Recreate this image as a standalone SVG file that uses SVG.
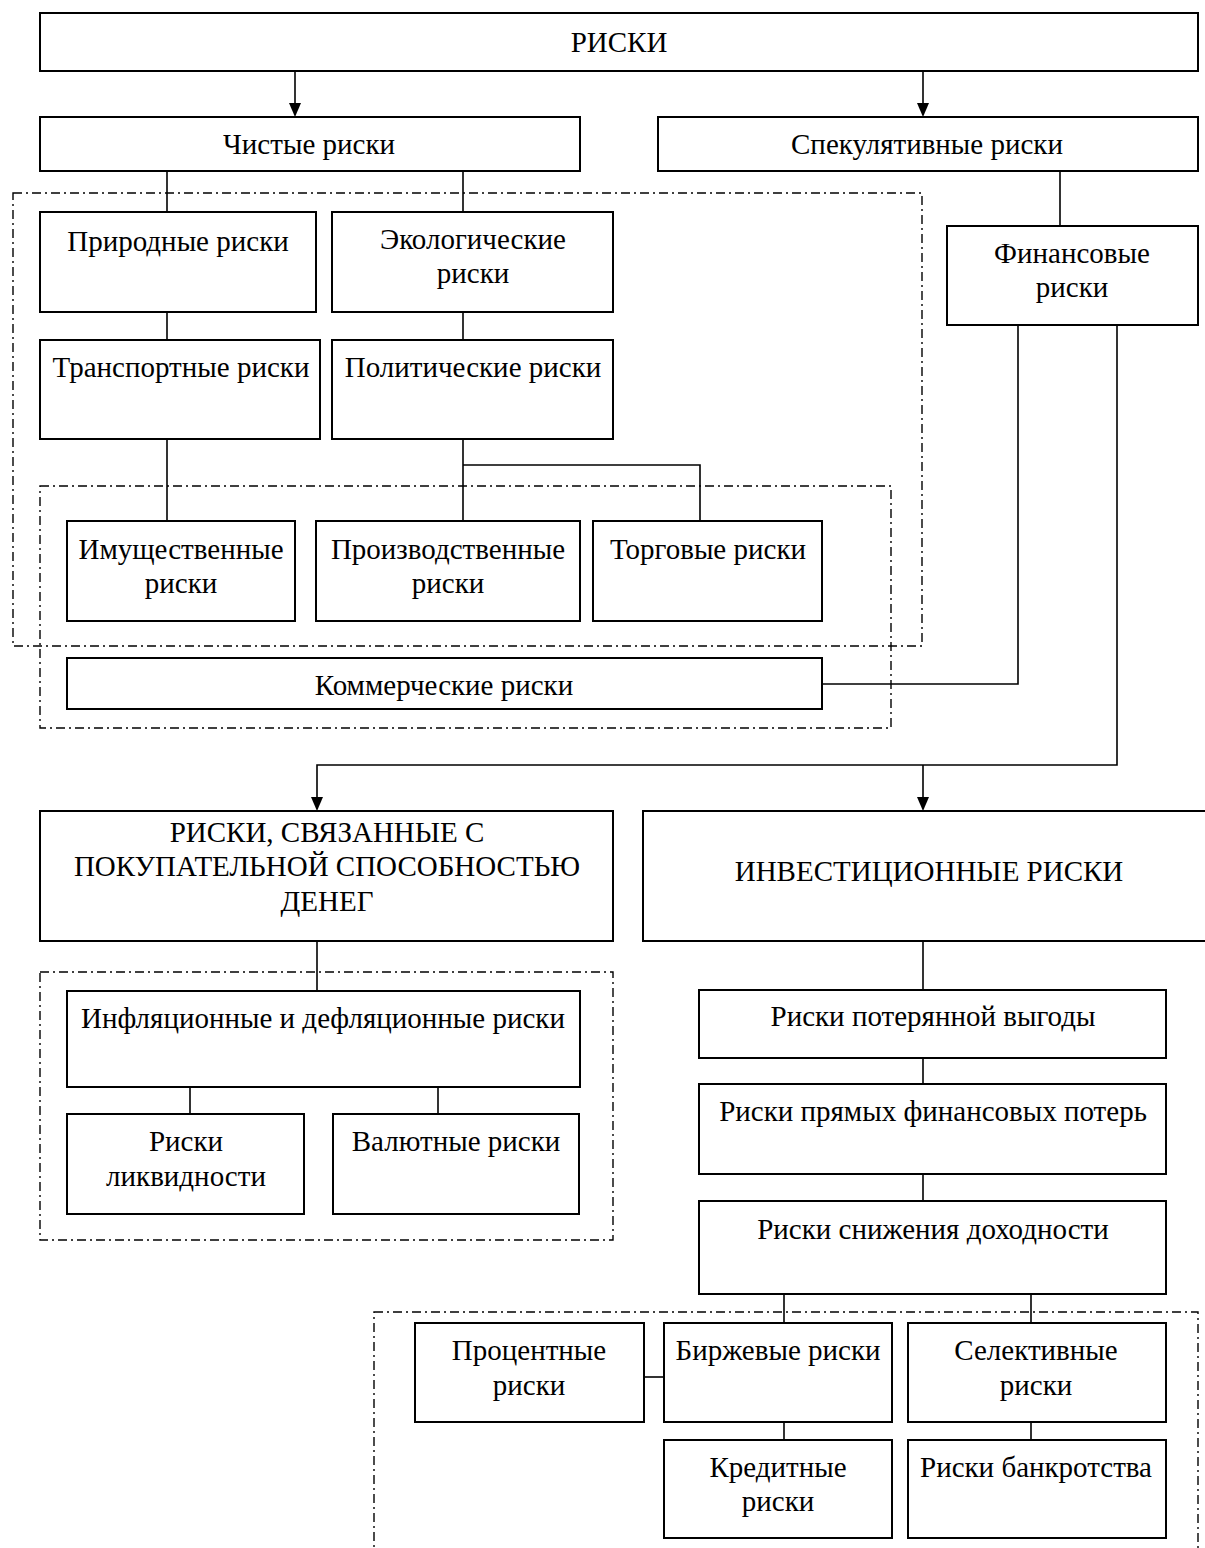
<svg xmlns="http://www.w3.org/2000/svg" width="1205" height="1548" viewBox="0 0 1205 1548">
<style>
.b{fill:#fff;stroke:#000;stroke-width:2}
.d{fill:none;stroke:#000;stroke-width:1.4;stroke-dasharray:9,4,2,4}
.c{fill:none;stroke:#000;stroke-width:1.6}
text{font-family:"Liberation Serif","Times New Roman",serif;font-size:29px;fill:#000;text-anchor:middle}
</style>
<rect width="1205" height="1548" fill="#fff"/>
<g id="groups">
<rect class="d" x="13" y="193" width="909" height="453"/>
<rect class="d" x="40" y="486" width="851" height="242"/>
<rect class="d" x="40" y="972" width="573" height="268"/>
<rect class="d" x="374" y="1312" width="824" height="250"/>
</g>
<g id="connectors">
<line class="c" x1="295" y1="71" x2="295" y2="103"/>
<path d="M289,103 L301,103 L295,117 Z"/>
<line class="c" x1="923" y1="71" x2="923" y2="103"/>
<path d="M917,103 L929,103 L923,117 Z"/>
<line class="c" x1="167" y1="171" x2="167" y2="212"/>
<line class="c" x1="463" y1="171" x2="463" y2="212"/>
<line class="c" x1="1060" y1="171" x2="1060" y2="226"/>
<line class="c" x1="167" y1="312" x2="167" y2="340"/>
<line class="c" x1="463" y1="312" x2="463" y2="340"/>
<line class="c" x1="167" y1="439" x2="167" y2="521"/>
<polyline class="c" points="463,439 463,521"/>
<polyline class="c" points="463,465 700,465 700,521"/>
<polyline class="c" points="1018,325 1018,684 822,684"/>
<polyline class="c" points="1117,325 1117,765 317,765 317,797"/>
<path d="M311,797 L323,797 L317,811 Z"/>
<line class="c" x1="923" y1="765" x2="923" y2="797"/>
<path d="M917,797 L929,797 L923,811 Z"/>
<line class="c" x1="317" y1="941" x2="317" y2="991"/>
<line class="c" x1="190" y1="1087" x2="190" y2="1114"/>
<line class="c" x1="438" y1="1087" x2="438" y2="1114"/>
<line class="c" x1="923" y1="941" x2="923" y2="990"/>
<line class="c" x1="923" y1="1058" x2="923" y2="1084"/>
<line class="c" x1="923" y1="1174" x2="923" y2="1201"/>
<line class="c" x1="784" y1="1294" x2="784" y2="1323"/>
<line class="c" x1="1031" y1="1294" x2="1031" y2="1323"/>
<line class="c" x1="644" y1="1377" x2="664" y2="1377"/>
<line class="c" x1="784" y1="1422" x2="784" y2="1440"/>
<line class="c" x1="1031" y1="1422" x2="1031" y2="1440"/>
</g>
<g id="n-risks"><rect class="b" x="40" y="13" width="1158" height="58"/><text x="619" y="52">РИСКИ</text></g>
<g id="n-pure"><rect class="b" x="40" y="117" width="540" height="54"/><text x="309" y="154">Чистые риски</text></g>
<g id="n-spec"><rect class="b" x="658" y="117" width="540" height="54"/><text x="927" y="154">Спекулятивные риски</text></g>
<g id="n-nat"><rect class="b" x="40" y="212" width="276" height="100"/><text x="178" y="251">Природные риски</text></g>
<g id="n-eco"><rect class="b" x="332" y="212" width="281" height="100"/><text x="473" y="249">Экологические</text><text x="473" y="283">риски</text></g>
<g id="n-fin"><rect class="b" x="947" y="226" width="251" height="99"/><text x="1072" y="263">Финансовые</text><text x="1072" y="297">риски</text></g>
<g id="n-trans"><rect class="b" x="40" y="340" width="280" height="99"/><text x="181" y="377">Транспортные риски</text></g>
<g id="n-pol"><rect class="b" x="332" y="340" width="281" height="99"/><text x="473" y="377">Политические риски</text></g>
<g id="n-prop"><rect class="b" x="67" y="521" width="228" height="100"/><text x="181" y="559">Имущественные</text><text x="181" y="593">риски</text></g>
<g id="n-prod"><rect class="b" x="316" y="521" width="264" height="100"/><text x="448" y="559">Производственные</text><text x="448" y="593">риски</text></g>
<g id="n-trade"><rect class="b" x="593" y="521" width="229" height="100"/><text x="708" y="559">Торговые риски</text></g>
<g id="n-comm"><rect class="b" x="67" y="658" width="755" height="51"/><text x="444" y="695">Коммерческие риски</text></g>
<g id="n-purch"><rect class="b" x="40" y="811" width="573" height="130"/><text x="327" y="842">РИСКИ, СВЯЗАННЫЕ С</text><text x="327" y="876">ПОКУПАТЕЛЬНОЙ СПОСОБНОСТЬЮ</text><text x="327" y="911">ДЕНЕГ</text></g>
<g id="n-inv"><rect class="b" x="643" y="811" width="600" height="130"/><text x="929" y="881">ИНВЕСТИЦИОННЫЕ РИСКИ</text></g>
<g id="n-infl"><rect class="b" x="67" y="991" width="513" height="96"/><text x="323" y="1028">Инфляционные и дефляционные риски</text></g>
<g id="n-liq"><rect class="b" x="67" y="1114" width="237" height="100"/><text x="186" y="1151">Риски</text><text x="186" y="1186">ликвидности</text></g>
<g id="n-cur"><rect class="b" x="333" y="1114" width="246" height="100"/><text x="456" y="1151">Валютные риски</text></g>
<g id="n-lost"><rect class="b" x="699" y="990" width="467" height="68"/><text x="933" y="1026">Риски потерянной выгоды</text></g>
<g id="n-direct"><rect class="b" x="699" y="1084" width="467" height="90"/><text x="933" y="1121">Риски прямых финансовых потерь</text></g>
<g id="n-yield"><rect class="b" x="699" y="1201" width="467" height="93"/><text x="933" y="1239">Риски снижения доходности</text></g>
<g id="n-int"><rect class="b" x="415" y="1323" width="229" height="99"/><text x="529" y="1360">Процентные</text><text x="529" y="1395">риски</text></g>
<g id="n-exch"><rect class="b" x="664" y="1323" width="228" height="99"/><text x="778" y="1360">Биржевые риски</text></g>
<g id="n-sel"><rect class="b" x="908" y="1323" width="258" height="99"/><text x="1036" y="1360">Селективные</text><text x="1036" y="1395">риски</text></g>
<g id="n-cred"><rect class="b" x="664" y="1440" width="228" height="98"/><text x="778" y="1477">Кредитные</text><text x="778" y="1511">риски</text></g>
<g id="n-bank"><rect class="b" x="908" y="1440" width="258" height="98"/><text x="1036" y="1477">Риски банкротства</text></g>
</svg>
